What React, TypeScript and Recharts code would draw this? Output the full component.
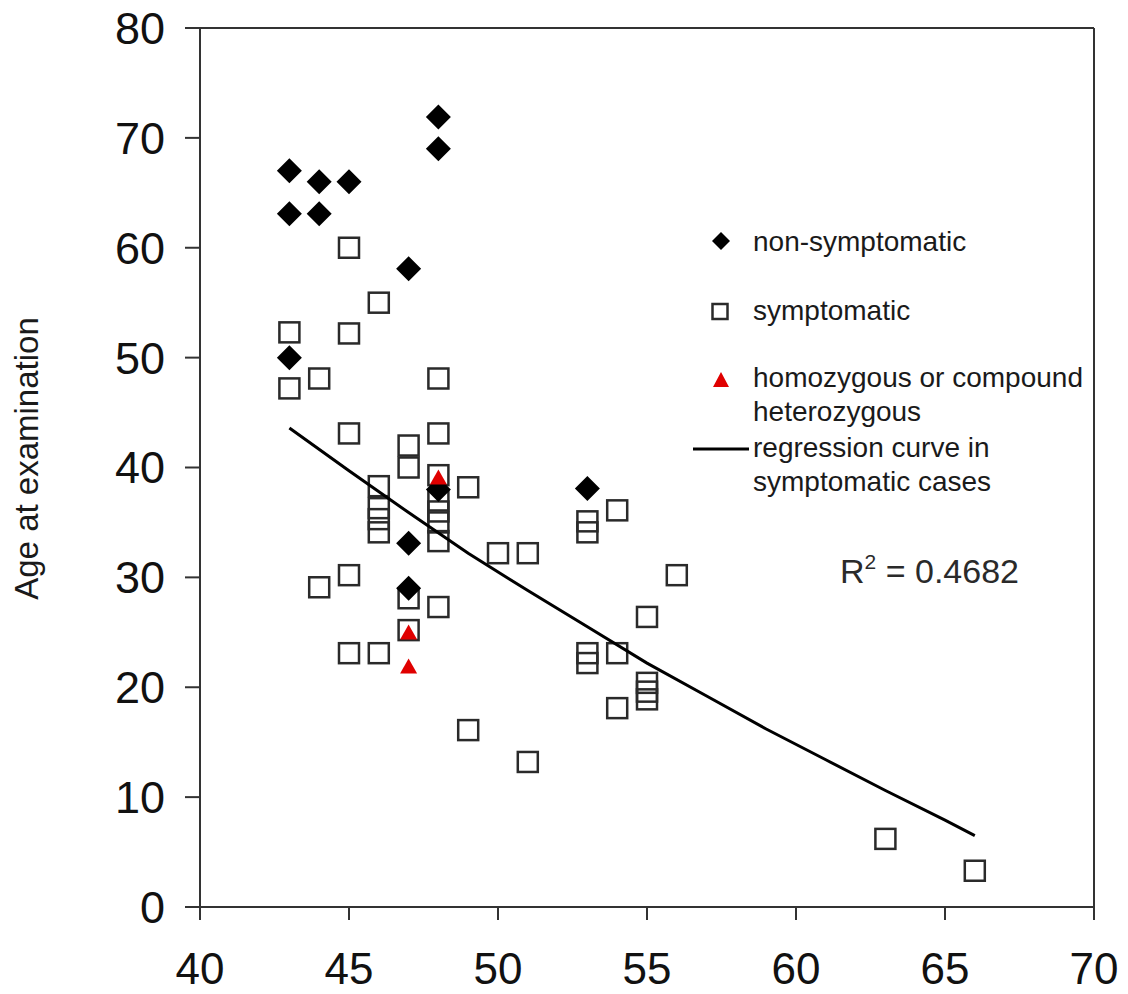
import React from 'react';
import { ScatterChart, Scatter, XAxis, YAxis, ReferenceLine, Customized, Label } from 'recharts';

const FONT = '"Liberation Sans", Arial, Helvetica, sans-serif';

const xTicks = [40, 45, 50, 55, 60, 65, 70];
const yTicks = [0, 10, 20, 30, 40, 50, 60, 70, 80];

const nonSymptomatic = [
  { x: 43, y: 67 }, { x: 43, y: 63.1 }, { x: 44, y: 66 }, { x: 44, y: 63.1 }, { x: 45, y: 66 },
  { x: 48, y: 71.9 }, { x: 48, y: 69 }, { x: 47, y: 58.1 }, { x: 43, y: 50 }, { x: 48, y: 38 },
  { x: 53, y: 38.1 }, { x: 47, y: 33.1 }, { x: 47, y: 29 },
];

const symptomatic = [
  { x: 45, y: 60 }, { x: 46, y: 55 }, { x: 43, y: 52.3 }, { x: 45, y: 52.2 }, { x: 43, y: 47.2 },
  { x: 44, y: 48.1 }, { x: 48, y: 48.1 }, { x: 45, y: 43.1 }, { x: 48, y: 43.1 }, { x: 47, y: 42 },
  { x: 47, y: 40 }, { x: 46, y: 38.3 }, { x: 46, y: 36.3 }, { x: 46, y: 35.3 }, { x: 46, y: 34.1 },
  { x: 48, y: 39.3 }, { x: 48, y: 37 }, { x: 48, y: 36 }, { x: 48, y: 35 }, { x: 48, y: 33.3 },
  { x: 49, y: 38.2 }, { x: 50, y: 32.2 }, { x: 51, y: 32.2 }, { x: 44, y: 29.1 }, { x: 45, y: 30.2 },
  { x: 47, y: 28.1 }, { x: 48, y: 27.3 }, { x: 47, y: 25.2 }, { x: 45, y: 23.1 }, { x: 46, y: 23.1 },
  { x: 49, y: 16.1 }, { x: 51, y: 13.2 }, { x: 53, y: 35.1 }, { x: 53, y: 34.1 }, { x: 54, y: 36.1 },
  { x: 56, y: 30.2 }, { x: 55, y: 26.4 }, { x: 53, y: 23.1 }, { x: 53, y: 22.2 }, { x: 54, y: 23.1 },
  { x: 55, y: 20.4 }, { x: 55, y: 19.6 }, { x: 55, y: 18.9 }, { x: 54, y: 18.1 }, { x: 63, y: 6.2 },
  { x: 66, y: 3.3 },
];

const homozygous = [
  { x: 48, y: 39 }, { x: 47, y: 24.9 }, { x: 47, y: 21.8 },
];

const regressionCurve = [
  { x: 43, y: 43.6 }, { x: 45, y: 39.7 }, { x: 47, y: 35.9 }, { x: 49, y: 32.2 },
  { x: 51, y: 28.8 }, { x: 53, y: 25.5 }, { x: 55, y: 22.2 }, { x: 57, y: 19.2 },
  { x: 59, y: 16.2 }, { x: 61, y: 13.4 }, { x: 63, y: 10.6 }, { x: 65, y: 7.9 }, { x: 66, y: 6.5 },
];

const legendItems = [
  { kind: 'diamond', lines: ['non-symptomatic'] },
  { kind: 'square', lines: ['symptomatic'] },
  { kind: 'triangle', lines: ['homozygous or compound', 'heterozygous'] },
  { kind: 'line', lines: ['regression curve in', 'symptomatic cases'] },
];

const rSquaredLabel = { base: 'R', sup: '2', rest: ' = 0.4682' };

const SquareShape = (props: any) => {
  const { cx, cy } = props;
  return <rect x={cx - 10} y={cy - 10} width={20} height={20} fill="none" stroke="#2a2a2a" strokeWidth={2.5} />;
};

const DiamondShape = (props: any) => {
  const { cx, cy } = props;
  const r = 12.5;
  return <polygon points={`${cx},${cy - r} ${cx + r},${cy} ${cx},${cy + r} ${cx - r},${cy}`} fill="#000" />;
};

const TriangleShape = (props: any) => {
  const { cx, cy } = props;
  return <polygon points={`${cx},${cy - 9} ${cx + 8.5},${cy + 6} ${cx - 8.5},${cy + 6}`} fill="#e00000" />;
};

const NoShape = () => <g />;

// chart is shifted up by 8px (wrapper marginTop -8), so y positions here are page y
const legendCenters = [241, 311.5, 380, 449];
const legendBaselines = [[250.5], [320], [387, 420.5], [457, 491]];

const LegendLayer = () => (
  <g fontFamily={FONT}>
    {legendItems.map((it, i) => {
      const cy = legendCenters[i];
      let marker: any = null;
      if (it.kind === 'diamond') {
        const r = 9;
        marker = <polygon points={`713,${cy - r} ${713 + r},${cy} 713,${cy + r} ${713 - r},${cy}`} fill="#000" />;
      } else if (it.kind === 'square') {
        marker = <rect x={704.5} y={cy - 7.5} width={15} height={15} fill="none" stroke="#2a2a2a" strokeWidth={2.5} />;
      } else if (it.kind === 'triangle') {
        marker = <polygon points={`713,${cy - 8} ${721},${cy + 7} ${705},${cy + 7}`} fill="#e00000" />;
      } else {
        marker = <line x1={685} x2={741} y1={cy} y2={cy} stroke="#000" strokeWidth={3} />;
      }
      return (
        <g key={i}>
          {marker}
          {it.lines.map((t, j) => (
            <text key={j} x={745} y={legendBaselines[i][j]} fontSize={28} fill="#1a1a1a">{t}</text>
          ))}
        </g>
      );
    })}
    <text x={832} y={583} fontSize={34} fill="#2a2a2a" fontFamily={FONT}>
      {rSquaredLabel.base}
      <tspan fontSize={21} dy={-14}>{rSquaredLabel.sup}</tspan>
      <tspan dy={14}>{rSquaredLabel.rest}</tspan>
    </text>
  </g>
);

const YLabel = (props: any) => {
  const vb = props.viewBox || { x: 0, y: 28, height: 879 };
  const x = vb.x + 30;
  const y = vb.y + vb.height / 2 - 9;
  return (
    <text x={x} y={y} transform={`rotate(-90, ${x}, ${y})`} textAnchor="middle" fontSize={33} fill="#1a1a1a" fontFamily={FONT}>
      Age at examination
    </text>
  );
};

export default function App() {
  const xTickStyle = { fontSize: 44, fill: '#111', fontFamily: FONT };
  const yTickStyle = { fontSize: 45, fill: '#111', fontFamily: FONT };
  return (
    <div style={{ marginTop: -8 }}>
      <ScatterChart width={1120} height={994} margin={{ top: 28, right: 34, left: 0, bottom: 27 }}>
        <XAxis
          type="number"
          dataKey="x"
          domain={[40, 70]}
          ticks={xTicks}
          interval={0}
          tickSize={13}
          tickMargin={33}
          height={60}
          axisLine={{ stroke: '#333', strokeWidth: 2 }}
          tickLine={{ stroke: '#333', strokeWidth: 2 }}
          tick={xTickStyle}
          allowDataOverflow
        />
        <YAxis
          type="number"
          dataKey="y"
          domain={[0, 80]}
          ticks={yTicks}
          interval={0}
          width={192}
          tickSize={15}
          tickMargin={20}
          axisLine={{ stroke: '#333', strokeWidth: 2 }}
          tickLine={{ stroke: '#333', strokeWidth: 2 }}
          tick={yTickStyle}
          allowDataOverflow
        >
          <Label content={<YLabel />} />
        </YAxis>
        <ReferenceLine y={80} stroke="#333" strokeWidth={2} />
        <ReferenceLine x={70} stroke="#333" strokeWidth={2} />
        <Scatter data={symptomatic} shape={<SquareShape />} isAnimationActive={false} />
        <Scatter data={nonSymptomatic} shape={<DiamondShape />} isAnimationActive={false} />
        <Scatter data={homozygous} shape={<TriangleShape />} isAnimationActive={false} />
        <Scatter
          data={regressionCurve}
          line={{ stroke: '#000', strokeWidth: 3 }}
          lineType="joint"
          shape={<NoShape />}
          isAnimationActive={false}
        />
        <Customized component={<LegendLayer />} />
      </ScatterChart>
    </div>
  );
}
